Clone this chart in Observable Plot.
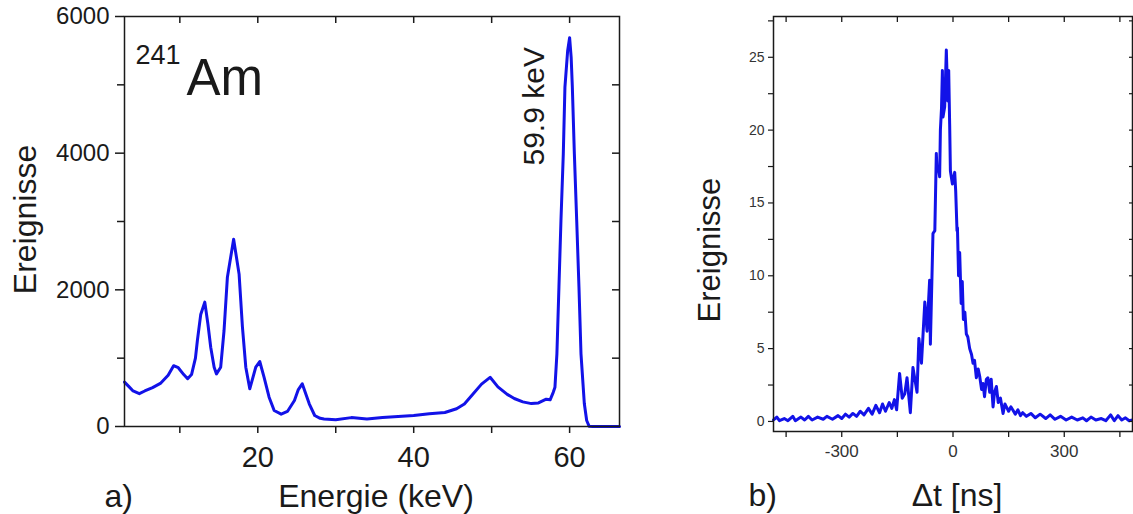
<!DOCTYPE html>
<html><head><meta charset="utf-8">
<script src="https://cdn.jsdelivr.net/npm/d3@7"></script>
<script src="https://cdn.jsdelivr.net/npm/@observablehq/plot@0.6"></script>
<style>
html,body{margin:0;padding:0;background:#fff;}
#wrap{position:relative;width:1133px;height:514px;overflow:hidden;}
#a{position:absolute;left:0;top:0;}
#b{position:absolute;left:650px;top:0;}
</style></head><body><div id="wrap"><div id="a"></div><div id="b"></div></div>
<script>
// Panel a) 241Am energy spectrum
const energyKeV = [2.9,3.5,4.0,4.8,5.5,6.5,7.5,8.5,9.2,9.8,10.5,11.0,11.5,12.0,12.25,12.68,13.2,13.6,13.96,14.4,14.7,15.24,15.67,16.1,16.9,17.6,18.03,18.46,18.97,19.74,20.25,20.8,21.45,22.1,23.0,23.8,24.7,25.2,25.7,26.6,27.3,28.0,28.5,30,32,34,36,38,40,42,44,45.5,46.5,47.5,48.7,49.8,50.8,52,52.9,54,55.1,56,57,57.5,57.9,58.12,58.37,58.63,58.89,59.19,59.4,59.75,60.0,60.2,60.35,60.61,60.91,61.2,61.46,61.89,62.19,62.5,63.0,66.4];
const countsA = [650,580,520,480,520,570,630,750,890,860,760,700,760,1000,1258,1640,1820,1500,1160,868,770,868,1405,2185,2740,2230,1453,868,551,868,951,722,429,234,180,220,380,540,624,332,161,120,110,100,130,110,130,145,160,185,205,260,330,460,620,720,580,470,410,360,335,345,400,390,500,575,1064,2039,3015,3990,4966,5500,5690,5400,4966,3990,3015,2039,1064,332,88,5,0,0];
const xMajorA = [20,40,60];
const xMinorA = [10,30,50];
const yMajorA = [0,2000,4000,6000];
const yMinorA = [1000,3000,5000];

// Panel b) time difference distribution
const dtNs = [-484,-475,-468,-455,-445,-432,-425,-410,-400,-390,-380,-365,-350,-340,-325,-310,-300,-290,-280,-270,-260,-250,-240,-228,-218,-208,-198,-190,-182,-172,-165,-158,-152,-144,-137,-130,-124,-115,-108,-97,-92,-85,-76,-70,-63,-61,-54,-49,-45,-43,-40,-36,-34,-31,-28.6,-27,-22.4,-18,-14,-11.6,-9,-7,-1.6,4.6,7.3,10.8,12,15,18,22,25,28,32,36,40,45,50,54,58,63,68,72,77,81,85,90,94,99,103,108,112,117,122,128,135,140,144,150,156,161,168,175,182,188,198,210,222,235,250,262,275,290,305,320,335,350,360,372,385,400,412,425,435,445,455,465,475,484];
const countsB = [0.1,0.3,0.05,0.2,0.05,0.35,0.05,0.3,0.1,0.35,0.1,0.3,0.15,0.35,0.15,0.4,0.2,0.5,0.3,0.55,0.35,0.7,0.45,0.9,0.5,1.1,0.6,1.2,0.7,1.3,0.9,1.5,0.8,3.3,1.6,1.9,3.0,0.6,3.7,2.0,5.7,4.0,8.2,6.2,9.7,5.3,12.9,13.1,18.4,17.2,17.5,16.8,20.0,21.5,24.1,20.9,21.6,25.5,22.0,24.1,20.4,17.2,16.3,17.1,15.8,13.1,13.3,10.0,11.6,8.1,9.6,7.0,7.5,6.0,5.8,5.0,4.6,4.0,4.2,3.0,3.6,3.1,2.2,2.6,1.7,2.9,3.0,2.0,2.9,1.0,2.0,2.4,1.3,1.6,0.55,1.2,1.0,0.7,1.0,0.8,0.5,0.8,0.4,0.6,0.35,0.55,0.25,0.5,0.2,0.45,0.15,0.35,0.1,0.3,0.1,0.25,0.05,0.3,0.1,0.2,0.05,0.45,0.05,0.4,0.1,0.25,0.05,0.1];
const xMajorB = [-300,0,300];
const xMinorB = [-450,-150,150,450];
const yMajorB = [0,5,10,15,20,25];
const yMinorB = [2.5,7.5,12.5,17.5,22.5,27.5];

const specA = energyKeV.map((E,i)=>({E, n: countsA[i]}));
const specB = dtNs.map((t,i)=>({t, n: countsB[i]}));

const blue = "#1212e8";
const ink = "#1a1a1a";
const font = "'Liberation Sans', Arial, Helvetica, sans-serif";
const blank = () => "";
const str = d => String(d);

const plotA = Plot.plot({
  width: 650, height: 514,
  marginLeft: 124, marginRight: 31, marginTop: 16, marginBottom: 88,
  style: {fontFamily: font, color: ink, background: "transparent", overflow: "visible"},
  x: {domain: [2.9, 66.4]},
  y: {domain: [0, 6000]},
  marks: [
    Plot.line(specA, {x: "E", y: "n", stroke: blue, strokeWidth: 3, strokeLinejoin: "round"}),
    Plot.frame({stroke: ink, strokeWidth: 1.5}),
    Plot.axisX(xMajorA, {anchor: "bottom", tickSize: 7, tickPadding: 13, fontSize: 29, tickFormat: str, label: null, strokeWidth: 1.5}),
    Plot.axisX(xMinorA, {anchor: "bottom", tickSize: 7, tickFormat: blank, label: null, strokeWidth: 1.5}),
    Plot.axisX([...xMinorA, ...xMajorA], {anchor: "top", tickSize: -6, tickFormat: blank, label: null, strokeWidth: 1.5}),
    Plot.axisY(yMajorA, {anchor: "left", tickSize: 9, tickPadding: 6, fontSize: 24, tickFormat: str, label: null, strokeWidth: 1.5}),
    Plot.axisY(yMinorA, {anchor: "left", tickSize: 7, tickFormat: blank, label: null, strokeWidth: 1.5}),
    Plot.axisY([...yMinorA, 2000, 4000], {anchor: "right", tickSize: -8, tickFormat: blank, label: null, strokeWidth: 1.5}),
    Plot.text(["Energie (keV)"], {text: d => d, frameAnchor: "bottom", dx: 4, dy: 80, lineAnchor: "bottom", textAnchor: "middle", fontSize: 32, fill: ink}),
    Plot.text(["a)"], {text: d => d, frameAnchor: "bottom-left", dx: -20, dy: 80, lineAnchor: "bottom", textAnchor: "start", fontSize: 32, fill: ink}),
    Plot.text(["Ereignisse"], {text: d => d, frameAnchor: "left", dx: -99, dy: -2, rotate: -90, lineAnchor: "middle", textAnchor: "middle", fontSize: 32, fill: ink}),
    Plot.text(["241"], {text: d => d, frameAnchor: "top-left", dx: 11, dy: 47, lineAnchor: "bottom", textAnchor: "start", fontSize: 27, fill: ink}),
    Plot.text(["Am"], {text: d => d, frameAnchor: "top-left", dx: 62, dy: 78, lineAnchor: "bottom", textAnchor: "start", fontSize: 51, fill: ink}),
    Plot.text(["59.9 keV"], {text: d => d, frameAnchor: "top-left", dx: 410, dy: 149, rotate: -90, lineAnchor: "middle", textAnchor: "start", fontSize: 30, fill: ink})
  ]
});
document.getElementById("a").append(plotA);

const plotB = Plot.plot({
  width: 483, height: 514,
  marginLeft: 123, marginRight: 1, marginTop: 16, marginBottom: 83,
  style: {fontFamily: font, color: ink, background: "transparent", overflow: "visible"},
  x: {domain: [-484, 484]},
  y: {domain: [-0.69, 27.8]},
  marks: [
    Plot.line(specB, {x: "t", y: "n", stroke: blue, strokeWidth: 3, strokeLinejoin: "round"}),
    Plot.frame({stroke: ink, strokeWidth: 1.5}),
    Plot.axisX(xMajorB, {anchor: "bottom", tickSize: 6, tickPadding: 7, fontSize: 17, fill: "#333", tickFormat: str, label: null, strokeWidth: 1.3}),
    Plot.axisX(xMinorB, {anchor: "bottom", tickSize: 6, tickFormat: blank, label: null, strokeWidth: 1.3}),
    Plot.axisX([...xMinorB, ...xMajorB], {anchor: "top", tickSize: -5, tickFormat: blank, label: null, strokeWidth: 1.3}),
    Plot.axisY(yMajorB, {anchor: "left", tickSize: 5, tickPadding: 4, fontSize: 14, fill: "#333", tickFormat: str, label: null, strokeWidth: 1.2}),
    Plot.axisY(yMinorB, {anchor: "left", tickSize: 5, tickFormat: blank, label: null, strokeWidth: 1.2}),
    Plot.axisY([...yMinorB, ...yMajorB], {anchor: "right", tickSize: -4, tickFormat: blank, label: null, strokeWidth: 1.2}),
    Plot.text(["\u0394t [ns]"], {text: d => d, frameAnchor: "bottom", dx: 4, dy: 74, lineAnchor: "bottom", textAnchor: "middle", fontSize: 32, fill: ink}),
    Plot.text(["b)"], {text: d => d, frameAnchor: "bottom-left", dx: -25, dy: 74, lineAnchor: "bottom", textAnchor: "start", fontSize: 32, fill: ink}),
    Plot.text(["Ereignisse"], {text: d => d, frameAnchor: "left", dx: -63, dy: 26, rotate: -90, lineAnchor: "middle", textAnchor: "middle", fontSize: 31, fill: ink})
  ]
});
document.getElementById("b").append(plotB);
</script>
</body></html>
